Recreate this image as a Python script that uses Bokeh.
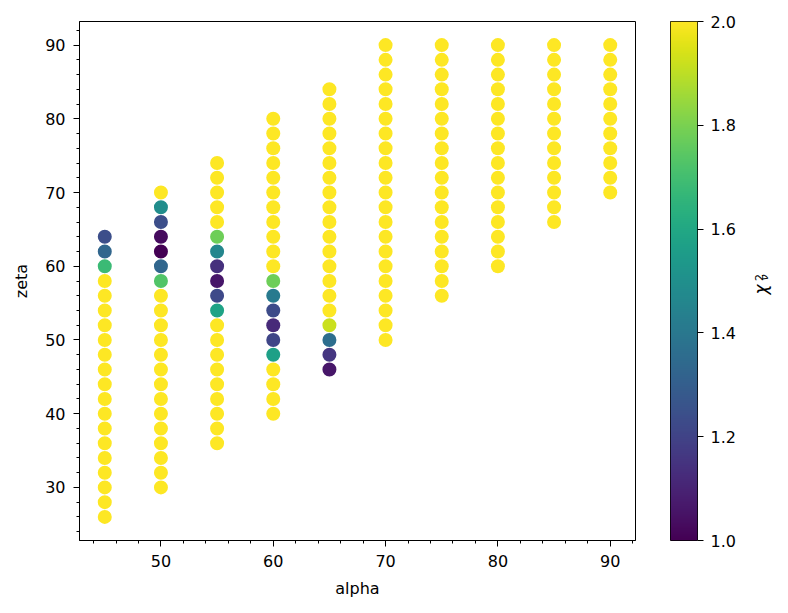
import math
import numpy as np
from bokeh.plotting import figure
from bokeh.models import (ColumnDataSource, LinearColorMapper, SingleIntervalTicker,
                          FixedTicker, Range1d, NumeralTickFormatter)
from bokeh.core.properties import value
from bokeh.palettes import Viridis256
from bokeh.layouts import row
from bokeh.embed import file_html
from bokeh.resources import INLINE

# ---- data (chi2 values >= 2 saturate to yellow) ----
alpha_45 = [45] * 20
zeta_45 = [26, 28, 30, 32, 34, 36, 38, 40, 42, 44, 46, 48, 50, 52, 54, 56, 58, 60, 62, 64]
chi_45 = [2.0, 2.0, 2.0, 2.0, 2.0, 2.0, 2.0, 2.0, 2.0, 2.0, 2.0, 2.0, 2.0, 2.0, 2.0, 2.0, 2.0,
          1.68, 1.33, 1.24]

alpha_50 = [50] * 21
zeta_50 = [30, 32, 34, 36, 38, 40, 42, 44, 46, 48, 50, 52, 54, 56, 58, 60, 62, 64, 66, 68, 70]
chi_50 = [2.0, 2.0, 2.0, 2.0, 2.0, 2.0, 2.0, 2.0, 2.0, 2.0, 2.0, 2.0, 2.0, 2.0,
          1.73, 1.33, 1.0, 1.03, 1.24, 1.49, 2.0]

alpha_55 = [55] * 20
zeta_55 = [36, 38, 40, 42, 44, 46, 48, 50, 52, 54, 56, 58, 60, 62, 64, 66, 68, 70, 72, 74]
chi_55 = [2.0, 2.0, 2.0, 2.0, 2.0, 2.0, 2.0, 2.0, 2.0,
          1.58, 1.22, 1.06, 1.14, 1.46, 1.78, 2.0, 2.0, 2.0, 2.0, 2.0]

alpha_60 = [60] * 21
zeta_60 = [40, 42, 44, 46, 48, 50, 52, 54, 56, 58, 60, 62, 64, 66, 68, 70, 72, 74, 76, 78, 80]
chi_60 = [2.0, 2.0, 2.0, 2.0, 1.57, 1.21, 1.12, 1.23, 1.41, 1.78,
          2.0, 2.0, 2.0, 2.0, 2.0, 2.0, 2.0, 2.0, 2.0, 2.0, 2.0]

alpha_65 = [65] * 20
zeta_65 = [46, 48, 50, 52, 54, 56, 58, 60, 62, 64, 66, 68, 70, 72, 74, 76, 78, 80, 82, 84]
chi_65 = [1.06, 1.16, 1.36, 1.92, 2.0, 2.0, 2.0, 2.0, 2.0, 2.0, 2.0, 2.0, 2.0, 2.0, 2.0, 2.0,
          2.0, 2.0, 2.0, 2.0]

alpha_70 = [70] * 21
zeta_70 = [50, 52, 54, 56, 58, 60, 62, 64, 66, 68, 70, 72, 74, 76, 78, 80, 82, 84, 86, 88, 90]
chi_70 = [2.0] * 21

alpha_75 = [75] * 18
zeta_75 = [56, 58, 60, 62, 64, 66, 68, 70, 72, 74, 76, 78, 80, 82, 84, 86, 88, 90]
chi_75 = [2.0] * 18

alpha_80 = [80] * 16
zeta_80 = [60, 62, 64, 66, 68, 70, 72, 74, 76, 78, 80, 82, 84, 86, 88, 90]
chi_80 = [2.0] * 16

alpha_85 = [85] * 13
zeta_85 = [66, 68, 70, 72, 74, 76, 78, 80, 82, 84, 86, 88, 90]
chi_85 = [2.0] * 13

alpha_90 = [90] * 11
zeta_90 = [70, 72, 74, 76, 78, 80, 82, 84, 86, 88, 90]
chi_90 = [2.0] * 11

colorbar_ticks = [1.0, 1.2, 1.4, 1.6, 1.8, 2.0]
colorbar_label_parts = ["χ", "2", "ν"]

alpha = alpha_45 + alpha_50 + alpha_55 + alpha_60 + alpha_65 + alpha_70 + alpha_75 + alpha_80 + alpha_85 + alpha_90
zeta = zeta_45 + zeta_50 + zeta_55 + zeta_60 + zeta_65 + zeta_70 + zeta_75 + zeta_80 + zeta_85 + zeta_90
chi2 = chi_45 + chi_50 + chi_55 + chi_60 + chi_65 + chi_70 + chi_75 + chi_80 + chi_85 + chi_90

source = ColumnDataSource(dict(alpha=alpha, zeta=zeta, chi2=chi2))
mapper = LinearColorMapper(palette=Viridis256, low=1.0, high=2.0)

FONT = "DejaVu Sans"
H = 613

p = figure(output_backend="svg", toolbar_location=None,
           frame_width=556, frame_height=519,
           min_border_left=79, min_border_right=10, min_border_top=21, min_border_bottom=73,
           x_range=Range1d(42.75, 92.25), y_range=Range1d(22.8, 93.2))
p.scatter("alpha", "zeta", source=source, size=14, line_color=None,
          fill_color={"field": "chi2", "transform": mapper})

p.xgrid.visible = False
p.ygrid.visible = False
p.outline_line_color = "black"
p.outline_line_width = 1
p.outline_line_alpha = 1
p.background_fill_color = "white"
p.border_fill_color = "white"

p.xaxis.ticker = SingleIntervalTicker(interval=10, num_minor_ticks=5)
p.yaxis.ticker = SingleIntervalTicker(interval=10, num_minor_ticks=5)
p.xaxis.axis_label = "alpha"
p.yaxis.axis_label = "zeta"
for ax in (p.xaxis, p.yaxis):
    ax.axis_line_color = "black"
    ax.major_tick_line_color = "black"
    ax.minor_tick_line_color = "black"
    ax.major_tick_out = 6
    ax.major_tick_in = 0
    ax.minor_tick_out = 3
    ax.minor_tick_in = 0
    ax.major_label_text_font = FONT
    ax.major_label_text_font_size = "16px"
    ax.major_label_text_color = "black"
    ax.axis_label_text_font = FONT
    ax.axis_label_text_font_size = "16px"
    ax.axis_label_text_font_style = "normal"
    ax.axis_label_text_color = "black"
p.xaxis.major_label_standoff = 8
p.xaxis.axis_label_standoff = 9
p.yaxis.major_label_standoff = 8
p.yaxis.axis_label_standoff = 11

# ---- colour bar as its own small figure ----
cb = figure(output_backend="svg", toolbar_location=None,
            frame_width=27, frame_height=519,
            min_border_left=25, min_border_right=43, min_border_top=21, min_border_bottom=73,
            x_range=Range1d(0, 1), y_range=Range1d(1.0, 2.0),
            x_axis_location=None, y_axis_location="right")
grad = np.linspace(1.0, 2.0, 256).reshape(256, 1)
cb.image(image=[grad], x=0, y=1.0, dw=1, dh=1.0, color_mapper=mapper)
cb.xgrid.visible = False
cb.ygrid.visible = False
cb.outline_line_color = "black"
cb.outline_line_width = 1
cb.border_fill_color = "white"
ax = cb.yaxis[0]
ax.ticker = FixedTicker(ticks=colorbar_ticks, minor_ticks=[])
ax.formatter = NumeralTickFormatter(format="0.0")
ax.axis_line_color = None
ax.major_tick_line_color = "black"
ax.major_tick_out = 6
ax.major_tick_in = 0
ax.minor_tick_line_color = None
ax.major_label_text_font = FONT
ax.major_label_text_font_size = "16px"
ax.major_label_text_color = "black"
ax.major_label_standoff = 7

# ---- strip holding the rotated colour-bar label  chi^2_nu ----
lab = figure(output_backend="svg", toolbar_location=None,
             frame_width=48, frame_height=H,
             min_border_left=0, min_border_right=0, min_border_top=0, min_border_bottom=0,
             x_range=Range1d(0, 48), y_range=Range1d(0, H),
             x_axis_location=None, y_axis_location=None)
lab.outline_line_color = None
lab.xgrid.visible = False
lab.ygrid.visible = False
lab.border_fill_color = "white"
lab.text(x=[20.5], y=[H - 268], text=[colorbar_label_parts[0]], angle=math.pi / 2,
         text_align="center", text_baseline="middle", text_font=value(FONT),
         text_font_size="17px", text_font_style="italic", text_color="black")
lab.text(x=[18.5], y=[H - 256], text=[colorbar_label_parts[1]], angle=math.pi / 2,
         text_align="center", text_baseline="middle", text_font=value(FONT),
         text_font_size="11px", text_color="black")
lab.text(x=[24], y=[H - 256], text=[colorbar_label_parts[2]], angle=math.pi / 2,
         text_align="center", text_baseline="middle", text_font=value(FONT),
         text_font_size="11px", text_font_style="italic", text_color="black")

layout = row(p, cb, lab)
open("out.html", "w").write(file_html(layout, INLINE))
